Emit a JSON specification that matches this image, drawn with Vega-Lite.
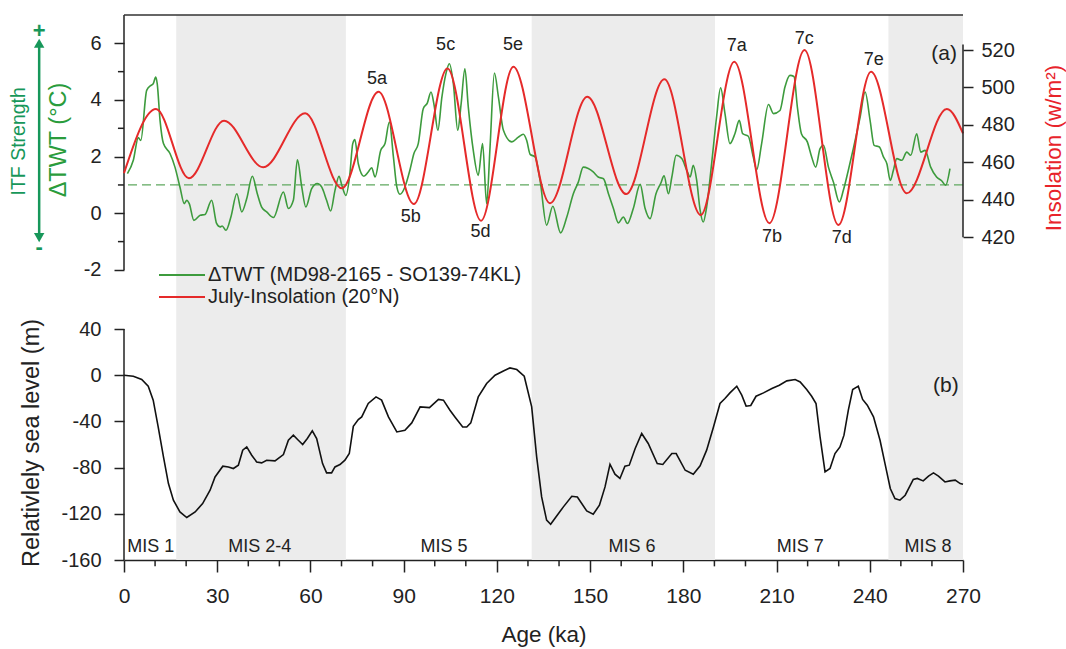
{
  "$schema": "https://vega.github.io/schema/vega-lite/v6.json",
  "width": 839,
  "height": 545,
  "autosize": "none",
  "padding": {"left": 124, "top": 15, "right": 103, "bottom": 89},
  "background": "white",
  "config": {
    "view": {"stroke": null},
    "font": "Liberation Sans"
  },
  "datasets": {
    "bands": [{"start": 16.8, "end": 71.4}, {"start": 131.2, "end": 190.2}, {"start": 246, "end": 270}],
    "twt": [
      {"age": 1.1, "v": 1.40}, {"age": 3.0, "v": 1.87}, {"age": 4.6, "v": 2.67}, {"age": 5.4, "v": 2.57}, {"age": 7.3, "v": 4.34}, {"age": 8.6, "v": 4.51}, {"age": 9.4, "v": 4.57}, {"age": 10.2, "v": 4.81}, {"age": 10.7, "v": 4.57}, {"age": 11.6, "v": 3.28}, {"age": 12.7, "v": 2.46}, {"age": 14.8, "v": 2.11}, {"age": 16.4, "v": 1.63}, {"age": 18.0, "v": 0.93}, {"age": 19.4, "v": 0.34}, {"age": 20.2, "v": 0.46}, {"age": 21.0, "v": 0.34}, {"age": 22.5, "v": -0.25}, {"age": 24.5, "v": -0.07}, {"age": 26.1, "v": -0.04}, {"age": 28.2, "v": 0.46}, {"age": 29.8, "v": -0.36}, {"age": 30.9, "v": -0.48}, {"age": 31.6, "v": -0.45}, {"age": 32.8, "v": -0.60}, {"age": 34.4, "v": -0.13}, {"age": 36.3, "v": 0.69}, {"age": 37.9, "v": 0.05}, {"age": 39.5, "v": 0.52}, {"age": 41.3, "v": 1.31}, {"age": 42.9, "v": 0.69}, {"age": 44.3, "v": 0.22}, {"age": 45.9, "v": 0.05}, {"age": 48.1, "v": -0.15}, {"age": 51.3, "v": 0.75}, {"age": 52.9, "v": 0.17}, {"age": 54.5, "v": 0.46}, {"age": 55.8, "v": 1.89}, {"age": 57.2, "v": 0.93}, {"age": 58.5, "v": 0.22}, {"age": 60.4, "v": 0.87}, {"age": 62.2, "v": 1.05}, {"age": 63.6, "v": 0.93}, {"age": 65.2, "v": 0.46}, {"age": 66.5, "v": 0.08}, {"age": 67.9, "v": 0.81}, {"age": 69.2, "v": 1.31}, {"age": 70.1, "v": 0.99}, {"age": 71.4, "v": 0.63}, {"age": 72.7, "v": 1.40}, {"age": 73.6, "v": 2.45}, {"age": 74.3, "v": 2.60}, {"age": 75.4, "v": 1.75}, {"age": 77.2, "v": 1.31}, {"age": 78.6, "v": 1.46}, {"age": 79.7, "v": 1.61}, {"age": 80.8, "v": 1.28}, {"age": 82.6, "v": 2.22}, {"age": 84.0, "v": 2.46}, {"age": 85.4, "v": 3.22}, {"age": 86.7, "v": 1.99}, {"age": 87.8, "v": 0.93}, {"age": 88.8, "v": 0.67}, {"age": 90.4, "v": 0.93}, {"age": 92.0, "v": 1.52}, {"age": 93.3, "v": 2.11}, {"age": 94.7, "v": 2.46}, {"age": 96.3, "v": 3.69}, {"age": 97.6, "v": 3.89}, {"age": 98.8, "v": 4.28}, {"age": 99.8, "v": 3.81}, {"age": 101.0, "v": 2.93}, {"age": 102.3, "v": 4.10}, {"age": 103.6, "v": 4.93}, {"age": 104.7, "v": 5.28}, {"age": 106.0, "v": 4.57}, {"age": 107.4, "v": 2.93}, {"age": 108.5, "v": 3.87}, {"age": 109.7, "v": 5.10}, {"age": 110.8, "v": 3.75}, {"age": 112.4, "v": 2.22}, {"age": 114.0, "v": 1.34}, {"age": 115.4, "v": 2.46}, {"age": 116.7, "v": 0.34}, {"age": 117.8, "v": 2.34}, {"age": 119.2, "v": 4.95}, {"age": 120.5, "v": 4.10}, {"age": 122.1, "v": 2.93}, {"age": 124.8, "v": 2.52}, {"age": 126.9, "v": 2.69}, {"age": 128.5, "v": 2.79}, {"age": 129.6, "v": 2.57}, {"age": 130.7, "v": 2.08}, {"age": 132.3, "v": 1.99}, {"age": 133.9, "v": 1.16}, {"age": 136.0, "v": -0.42}, {"age": 138.0, "v": 0.25}, {"age": 140.5, "v": -0.69}, {"age": 142.5, "v": -0.13}, {"age": 144.6, "v": 0.69}, {"age": 146.2, "v": 1.10}, {"age": 147.8, "v": 1.63}, {"age": 149.4, "v": 1.58}, {"age": 151.0, "v": 1.46}, {"age": 152.6, "v": 1.28}, {"age": 154.3, "v": 1.22}, {"age": 155.9, "v": 0.69}, {"age": 157.5, "v": 0.17}, {"age": 159.1, "v": -0.34}, {"age": 160.7, "v": -0.13}, {"age": 162.0, "v": -0.36}, {"age": 163.9, "v": 0.17}, {"age": 166.1, "v": 1.02}, {"age": 167.7, "v": 0.17}, {"age": 169.3, "v": -0.19}, {"age": 171.2, "v": 0.69}, {"age": 172.7, "v": 1.05}, {"age": 173.8, "v": 1.32}, {"age": 175.2, "v": 0.69}, {"age": 176.3, "v": 1.28}, {"age": 177.7, "v": 2.05}, {"age": 179.5, "v": 1.93}, {"age": 181.1, "v": 1.52}, {"age": 182.2, "v": 1.28}, {"age": 183.2, "v": 1.69}, {"age": 184.3, "v": 1.16}, {"age": 185.4, "v": 0.11}, {"age": 186.4, "v": -0.31}, {"age": 187.5, "v": 0.22}, {"age": 189.1, "v": 1.75}, {"age": 190.7, "v": 3.40}, {"age": 192.0, "v": 4.43}, {"age": 193.4, "v": 3.52}, {"age": 195.0, "v": 2.46}, {"age": 196.6, "v": 2.81}, {"age": 198.0, "v": 3.28}, {"age": 199.1, "v": 2.81}, {"age": 200.9, "v": 2.72}, {"age": 202.5, "v": 1.99}, {"age": 203.6, "v": 1.54}, {"age": 205.2, "v": 2.46}, {"age": 207.4, "v": 3.84}, {"age": 209.0, "v": 3.52}, {"age": 211.1, "v": 3.63}, {"age": 212.7, "v": 4.46}, {"age": 214.3, "v": 4.87}, {"age": 215.6, "v": 4.83}, {"age": 216.7, "v": 3.75}, {"age": 218.0, "v": 2.81}, {"age": 219.9, "v": 2.52}, {"age": 221.3, "v": 1.99}, {"age": 222.6, "v": 1.63}, {"age": 224.0, "v": 2.28}, {"age": 225.1, "v": 2.40}, {"age": 226.7, "v": 1.63}, {"age": 228.3, "v": 1.10}, {"age": 230.2, "v": 0.40}, {"age": 231.5, "v": 0.81}, {"age": 233.1, "v": 1.52}, {"age": 234.7, "v": 2.28}, {"age": 236.9, "v": 3.40}, {"age": 238.5, "v": 4.28}, {"age": 240.1, "v": 3.28}, {"age": 241.4, "v": 2.40}, {"age": 243.1, "v": 2.34}, {"age": 244.4, "v": 1.99}, {"age": 245.5, "v": 1.75}, {"age": 246.6, "v": 1.16}, {"age": 247.6, "v": 1.52}, {"age": 248.7, "v": 1.93}, {"age": 250.3, "v": 1.87}, {"age": 251.9, "v": 2.16}, {"age": 253.2, "v": 2.05}, {"age": 255.1, "v": 2.81}, {"age": 256.4, "v": 2.16}, {"age": 257.8, "v": 2.22}, {"age": 259.6, "v": 1.63}, {"age": 261.5, "v": 1.28}, {"age": 263.2, "v": 1.14}, {"age": 264.4, "v": 0.99}, {"age": 265.8, "v": 1.58}
    ],
    "ins": [
      {"age": 0, "v": 454.3}, {"age": 10.3, "v": 488.5}, {"age": 20.9, "v": 451.5}, {"age": 32.2, "v": 482.3}, {"age": 44.8, "v": 457.4}, {"age": 58.3, "v": 486.2}, {"age": 70.1, "v": 446.2}, {"age": 81.9, "v": 497.7}, {"age": 93.3, "v": 437.8}, {"age": 104.1, "v": 510.2}, {"age": 114.9, "v": 428.9}, {"age": 125.3, "v": 511.1}, {"age": 137.1, "v": 438.2}, {"age": 149.1, "v": 495.1}, {"age": 161.6, "v": 443.1}, {"age": 173.9, "v": 504.4}, {"age": 185.6, "v": 431.9}, {"age": 196.4, "v": 513.8}, {"age": 207.7, "v": 427.5}, {"age": 219.0, "v": 520.0}, {"age": 229.9, "v": 426.6}, {"age": 240.4, "v": 508.4}, {"age": 251.9, "v": 443.5}, {"age": 264.8, "v": 488.5}, {"age": 270, "v": 475.5}
    ],
    "sl": [
      {"age": 0, "v": 0}, {"age": 3.0, "v": -0.9}, {"age": 5.7, "v": -3.7}, {"age": 7.8, "v": -9.5}, {"age": 9.4, "v": -21.6}, {"age": 11.0, "v": -44.8}, {"age": 12.7, "v": -70.7}, {"age": 14.3, "v": -93.8}, {"age": 15.9, "v": -108.2}, {"age": 18.0, "v": -118.4}, {"age": 20.2, "v": -123.2}, {"age": 22.9, "v": -118.4}, {"age": 25.3, "v": -111.1}, {"age": 27.7, "v": -99.6}, {"age": 29.3, "v": -88.1}, {"age": 31.8, "v": -78.8}, {"age": 33.6, "v": -79.4}, {"age": 35.2, "v": -80.8}, {"age": 36.8, "v": -77.9}, {"age": 38.2, "v": -64.9}, {"age": 39.5, "v": -62.1}, {"age": 41.1, "v": -69.3}, {"age": 42.7, "v": -75.1}, {"age": 44.3, "v": -75.9}, {"age": 45.9, "v": -73.6}, {"age": 48.6, "v": -74.2}, {"age": 51.3, "v": -68.7}, {"age": 52.9, "v": -56.3}, {"age": 54.5, "v": -51.9}, {"age": 56.1, "v": -56.3}, {"age": 57.5, "v": -60.0}, {"age": 59.0, "v": -54.8}, {"age": 60.6, "v": -48.2}, {"age": 62.0, "v": -54.8}, {"age": 63.9, "v": -76.5}, {"age": 65.2, "v": -84.6}, {"age": 66.8, "v": -84.6}, {"age": 67.9, "v": -79.4}, {"age": 69.5, "v": -77.3}, {"age": 71.1, "v": -73.6}, {"age": 72.5, "v": -67.8}, {"age": 73.8, "v": -44.2}, {"age": 75.4, "v": -38.4}, {"age": 76.5, "v": -36.1}, {"age": 78.6, "v": -24.5}, {"age": 81.1, "v": -18.8}, {"age": 82.9, "v": -21.6}, {"age": 85.1, "v": -36.1}, {"age": 87.8, "v": -49.1}, {"age": 90.4, "v": -47.6}, {"age": 92.6, "v": -41.3}, {"age": 95.3, "v": -27.4}, {"age": 98.3, "v": -28.0}, {"age": 101.2, "v": -21.0}, {"age": 102.8, "v": -21.6}, {"age": 104.9, "v": -30.3}, {"age": 106.5, "v": -36.1}, {"age": 109.0, "v": -44.8}, {"age": 110.3, "v": -44.8}, {"age": 111.6, "v": -41.3}, {"age": 114.0, "v": -18.8}, {"age": 116.7, "v": -7.2}, {"age": 119.4, "v": 0}, {"age": 122.1, "v": 3.7}, {"age": 124.2, "v": 6.3}, {"age": 126.4, "v": 4.9}, {"age": 128.8, "v": -0.9}, {"age": 131.2, "v": -27.4}, {"age": 132.8, "v": -70.7}, {"age": 134.4, "v": -105.4}, {"age": 136.0, "v": -125.5}, {"age": 137.3, "v": -129.0}, {"age": 139.0, "v": -122.7}, {"age": 141.4, "v": -114.0}, {"age": 144.1, "v": -104.8}, {"age": 145.9, "v": -105.4}, {"age": 148.9, "v": -117.5}, {"age": 151.0, "v": -120.3}, {"age": 153.0, "v": -112.6}, {"age": 154.8, "v": -96.7}, {"age": 156.4, "v": -77.1}, {"age": 158.0, "v": -85.7}, {"age": 159.6, "v": -89.4}, {"age": 161.2, "v": -78.8}, {"age": 162.6, "v": -77.9}, {"age": 164.5, "v": -63.5}, {"age": 166.6, "v": -50.5}, {"age": 168.7, "v": -59.1}, {"age": 171.6, "v": -76.5}, {"age": 173.4, "v": -77.3}, {"age": 176.3, "v": -67.8}, {"age": 177.7, "v": -67.8}, {"age": 180.6, "v": -82.3}, {"age": 183.2, "v": -85.7}, {"age": 185.4, "v": -78.5}, {"age": 187.5, "v": -64.9}, {"age": 189.7, "v": -44.8}, {"age": 191.8, "v": -24.5}, {"age": 193.4, "v": -20.2}, {"age": 195.0, "v": -15.3}, {"age": 197.2, "v": -9.5}, {"age": 198.8, "v": -17.3}, {"age": 200.2, "v": -26.8}, {"age": 201.7, "v": -26.2}, {"age": 203.4, "v": -18.2}, {"age": 205.8, "v": -15.3}, {"age": 208.5, "v": -11.5}, {"age": 210.9, "v": -8.7}, {"age": 213.3, "v": -4.9}, {"age": 216.0, "v": -3.7}, {"age": 217.6, "v": -5.8}, {"age": 219.7, "v": -12.4}, {"age": 221.3, "v": -18.2}, {"age": 222.7, "v": -24.5}, {"age": 224.0, "v": -53.4}, {"age": 225.6, "v": -83.7}, {"age": 227.2, "v": -80.8}, {"age": 228.8, "v": -67.8}, {"age": 230.4, "v": -62.1}, {"age": 231.7, "v": -51.9}, {"age": 233.1, "v": -30.3}, {"age": 234.5, "v": -12.4}, {"age": 236.3, "v": -9.5}, {"age": 237.7, "v": -21.0}, {"age": 239.2, "v": -26.0}, {"age": 241.2, "v": -36.1}, {"age": 243.3, "v": -56.3}, {"age": 244.9, "v": -76.5}, {"age": 246.6, "v": -98.1}, {"age": 248.1, "v": -106.8}, {"age": 249.7, "v": -108.2}, {"age": 251.4, "v": -103.9}, {"age": 254.0, "v": -90.3}, {"age": 255.3, "v": -89.4}, {"age": 257.2, "v": -91.5}, {"age": 258.9, "v": -87.4}, {"age": 260.5, "v": -84.6}, {"age": 262.1, "v": -87.4}, {"age": 264.2, "v": -92.4}, {"age": 265.8, "v": -91.5}, {"age": 267.5, "v": -90.9}, {"age": 269.1, "v": -93.8}, {"age": 270, "v": -94.4}
    ],
    "peaks": [
      {"age": 81.4, "v": 4.75, "label": "5a"}, {"age": 92.3, "v": -0.13, "label": "5b"}, {"age": 103.5, "v": 5.93, "label": "5c"}, {"age": 114.7, "v": -0.66, "label": "5d"}, {"age": 125.2, "v": 5.93, "label": "5e"},
      {"age": 197.2, "v": 5.9, "label": "7a"}, {"age": 208.5, "v": -0.84, "label": "7b"}, {"age": 218.9, "v": 6.16, "label": "7c"}, {"age": 231.0, "v": -0.89, "label": "7d"}, {"age": 241.3, "v": 5.4, "label": "7e"}
    ],
    "mis": [
      {"age": 8.6, "label": "MIS 1"}, {"age": 43.7, "label": "MIS 2-4"}, {"age": 103.0, "label": "MIS 5"}, {"age": 163.5, "label": "MIS 6"}, {"age": 217.6, "label": "MIS 7"}, {"age": 258.7, "label": "MIS 8"}
    ],
    "xminor": [{"age": 10}, {"age": 20}, {"age": 40}, {"age": 50}, {"age": 70}, {"age": 80}, {"age": 100}, {"age": 110}, {"age": 130}, {"age": 140}, {"age": 160}, {"age": 170}, {"age": 190}, {"age": 200}, {"age": 220}, {"age": 230}, {"age": 250}, {"age": 260}],
    "yminor": [{"v": -1}, {"v": 1}, {"v": 3}, {"v": 5}]
  },
  "resolve": {"scale": {"y": "independent"}},
  "layer": [
    {
      "data": {"name": "bands"},
      "mark": {"type": "rect", "color": "#ececec"},
      "encoding": {
        "x": {
          "field": "start", "type": "quantitative",
          "scale": {"domain": [0, 270], "nice": false, "zero": false},
          "axis": {
            "values": [0, 30, 60, 90, 120, 150, 180, 210, 240, 270],
            "labelExpr": "'' + datum.value",
            "grid": false, "tickSize": 12, "tickWidth": 1.5, "tickColor": "#222", "domainWidth": 1.5, "domainColor": "#222",
            "labelFont": "Liberation Sans", "labelFontSize": 21, "labelColor": "#222", "labelPadding": 13, "labelFlush": false, "labelOverlap": false,
            "title": "Age (ka)", "titleFont": "Liberation Sans", "titleFontWeight": "normal", "titleColor": "#222", "titleFontSize": 22.5, "titleX": 419.5, "titleY": 74, "titleAlign": "center", "titleBaseline": "middle", "titleAngle": 0
          }
        },
        "x2": {"field": "end"}
      }
    },
    {
      "data": {"values": [{}]},
      "mark": {"type": "rule", "color": "#5fa85f", "strokeDash": [9, 5], "strokeWidth": 1.3},
      "encoding": {"y": {"datum": 1, "type": "quantitative", "scale": {"domain": [-12.24, 7], "nice": false, "zero": false}, "axis": null}}
    },
    {
      "data": {"name": "twt"},
      "mark": {"type": "line", "interpolate": "monotone", "strokeWidth": 1.6},
      "encoding": {
        "x": {"field": "age", "type": "quantitative"},
        "y": {
          "field": "v", "type": "quantitative",
          "scale": {"domain": [-12.24, 7], "nice": false, "zero": false},
          "axis": {
            "orient": "left", "domain": false, "grid": false,
            "values": [-2, 0, 2, 4, 6],
            "labelExpr": "'' + datum.value",
            "tickSize": 10, "tickWidth": 1.5, "tickColor": "#222",
            "labelFont": "Liberation Sans", "labelFontSize": 20, "labelColor": "#222", "labelPadding": 13, "labelOverlap": false, "labelFlush": false,
            "title": "ΔTWT (°C)", "titleFont": "Liberation Sans", "titleFontWeight": "normal", "titleColor": "#2a9c3c", "titleFontSize": 23.5, "titleX": -66, "titleY": 124.5, "titleAngle": 270, "titleAlign": "center", "titleBaseline": "middle"
          }
        },
        "color": {
          "datum": "ΔTWT (MD98-2165 - SO139-74KL)", "type": "nominal",
          "scale": {"domain": ["ΔTWT (MD98-2165 - SO139-74KL)", "July-Insolation (20°N)"], "range": ["#3d9b3d", "#e52a2a"]},
          "legend": {
            "orient": "none", "legendX": 48, "legendY": 250, "title": null, "padding": 0,
            "symbolType": "M-4.6,0H4.6", "symbolSize": 100, "symbolStrokeWidth": 1.8,
            "labelFontSize": 20, "labelFont": "Liberation Sans", "labelColor": "#222", "labelOffset": 16, "labelLimit": 0, "rowPadding": 2
          }
        }
      }
    },
    {
      "data": {"values": [{}]},
      "mark": {"type": "rule", "color": "#222", "strokeWidth": 1.5},
      "encoding": {
        "x": {"datum": 0, "type": "quantitative"},
        "y": {"datum": -2, "type": "quantitative", "scale": {"domain": [-12.24, 7], "nice": false, "zero": false}, "axis": null},
        "y2": {"datum": 7}
      }
    },
    {
      "data": {"name": "yminor"},
      "mark": {"type": "rule", "color": "#222", "strokeWidth": 1.5},
      "encoding": {
        "x": {"datum": 0, "type": "quantitative"},
        "x2": {"datum": -1.95},
        "y": {"field": "v", "type": "quantitative", "scale": {"domain": [-12.24, 7], "nice": false, "zero": false}, "axis": null}
      }
    },
    {
      "data": {"values": [{}]},
      "mark": {"type": "rule", "color": "#333", "strokeWidth": 1.5},
      "encoding": {
        "x": {"datum": 0, "type": "quantitative"},
        "x2": {"datum": 270},
        "y": {"datum": 7, "type": "quantitative", "scale": {"domain": [-12.24, 7], "nice": false, "zero": false}, "axis": null}
      }
    },
    {
      "data": {"name": "peaks"},
      "mark": {"type": "text", "fontSize": 18, "color": "#222", "align": "center", "baseline": "middle"},
      "encoding": {
        "x": {"field": "age", "type": "quantitative"},
        "y": {"field": "v", "type": "quantitative", "scale": {"domain": [-12.24, 7], "nice": false, "zero": false}, "axis": null},
        "text": {"field": "label"}
      }
    },
    {
      "data": {"values": [{"age": 263.9, "v": 5.63, "label": "(a)"}]},
      "mark": {"type": "text", "fontSize": 21, "color": "#222", "align": "center", "baseline": "middle"},
      "encoding": {
        "x": {"field": "age", "type": "quantitative"},
        "y": {"field": "v", "type": "quantitative", "scale": {"domain": [-12.24, 7], "nice": false, "zero": false}, "axis": null},
        "text": {"field": "label"}
      }
    },
    {
      "data": {"values": [{"age": -27.3, "lo": -0.86, "hi": 6.0}]},
      "mark": {"type": "rule", "color": "#17975a", "strokeWidth": 2.5},
      "encoding": {
        "x": {"field": "age", "type": "quantitative"},
        "y": {"field": "lo", "type": "quantitative", "scale": {"domain": [-12.24, 7], "nice": false, "zero": false}, "axis": null},
        "y2": {"field": "hi"}
      }
    },
    {
      "data": {"values": [{"age": -27.3, "v": 6.0, "shape": "triangle-up"}, {"age": -27.3, "v": -0.86, "shape": "triangle-down"}]},
      "mark": {"type": "point", "filled": true, "size": 110, "color": "#17975a", "opacity": 1},
      "encoding": {
        "x": {"field": "age", "type": "quantitative"},
        "y": {"field": "v", "type": "quantitative", "scale": {"domain": [-12.24, 7], "nice": false, "zero": false}, "axis": null},
        "shape": {"field": "shape", "type": "nominal", "scale": null}
      }
    },
    {
      "data": {"values": [{"age": -27.3, "v": 6.45, "label": "+"}, {"age": -27.3, "v": -1.2, "label": "-"}]},
      "mark": {"type": "text", "fontSize": 22, "fontWeight": "bold", "color": "#17975a", "align": "center", "baseline": "middle"},
      "encoding": {
        "x": {"field": "age", "type": "quantitative"},
        "y": {"field": "v", "type": "quantitative", "scale": {"domain": [-12.24, 7], "nice": false, "zero": false}, "axis": null},
        "text": {"field": "label"}
      }
    },
    {
      "data": {"values": [{"age": -33.7, "v": 2.54, "label": "ITF Strength"}]},
      "mark": {"type": "text", "fontSize": 19.5, "color": "#17975a", "align": "center", "baseline": "middle", "angle": 270},
      "encoding": {
        "x": {"field": "age", "type": "quantitative"},
        "y": {"field": "v", "type": "quantitative", "scale": {"domain": [-12.24, 7], "nice": false, "zero": false}, "axis": null},
        "text": {"field": "label"}
      }
    },
    {
      "data": {"name": "ins"},
      "mark": {"type": "line", "interpolate": "monotone", "strokeWidth": 2},
      "encoding": {
        "x": {"field": "age", "type": "quantitative"},
        "y": {
          "field": "v", "type": "quantitative",
          "scale": {"domain": [247.7, 538.7], "nice": false, "zero": false},
          "axis": {
            "orient": "right", "domain": false, "grid": false,
            "values": [420, 440, 460, 480, 500, 520],
            "tickSize": 10, "tickWidth": 1.5, "tickColor": "#222",
            "labelFont": "Liberation Sans", "labelFontSize": 20, "labelColor": "#222", "labelPadding": 8, "labelFlush": false,
            "title": "Insolation (w/m²)", "titleFont": "Liberation Sans", "titleFontWeight": "normal", "titleColor": "#e8232b", "titleFontSize": 22.5, "titleX": 90, "titleY": 132.5, "titleAngle": 270, "titleAlign": "center", "titleBaseline": "middle"
          }
        },
        "color": {"datum": "July-Insolation (20°N)", "type": "nominal"}
      }
    },
    {
      "data": {"values": [{}]},
      "mark": {"type": "rule", "color": "#222", "strokeWidth": 1.5},
      "encoding": {
        "x": {"datum": 270, "type": "quantitative"},
        "y": {"datum": 420, "type": "quantitative", "scale": {"domain": [247.7, 538.7], "nice": false, "zero": false}, "axis": null},
        "y2": {"datum": 523}
      }
    },
    {
      "data": {"name": "sl"},
      "mark": {"type": "line", "color": "#111", "strokeWidth": 1.6},
      "encoding": {
        "x": {"field": "age", "type": "quantitative"},
        "y": {
          "field": "v", "type": "quantitative",
          "scale": {"domain": [-160, 311.9], "nice": false, "zero": false},
          "axis": {
            "orient": "left", "domain": false, "grid": false,
            "values": [-160, -120, -80, -40, 0, 40],
            "labelExpr": "'' + datum.value",
            "tickSize": 10, "tickWidth": 1.5, "tickColor": "#222",
            "labelFont": "Liberation Sans", "labelFontSize": 20, "labelColor": "#222", "labelPadding": 13, "labelFlush": false,
            "title": "Relativlely sea level (m)", "titleFont": "Liberation Sans", "titleFontWeight": "normal", "titleColor": "#222", "titleFontSize": 23.5, "titleX": -93, "titleY": 427.5, "titleAngle": 270, "titleAlign": "center", "titleBaseline": "middle"
          }
        }
      }
    },
    {
      "data": {"values": [{}]},
      "mark": {"type": "rule", "color": "#222", "strokeWidth": 1.5},
      "encoding": {
        "x": {"datum": 0, "type": "quantitative"},
        "y": {"datum": -160, "type": "quantitative", "scale": {"domain": [-160, 311.9], "nice": false, "zero": false}, "axis": null},
        "y2": {"datum": 40}
      }
    },
    {
      "data": {"name": "xminor"},
      "mark": {"type": "rule", "color": "#222", "strokeWidth": 1.5},
      "encoding": {
        "x": {"field": "age", "type": "quantitative"},
        "y": {"datum": -160, "type": "quantitative", "scale": {"domain": [-160, 311.9], "nice": false, "zero": false}, "axis": null},
        "y2": {"datum": -165.5}
      }
    },
    {
      "data": {"name": "mis"},
      "mark": {"type": "text", "fontSize": 18, "color": "#222", "align": "center", "baseline": "middle"},
      "encoding": {
        "x": {"field": "age", "type": "quantitative"},
        "y": {"datum": -148.6, "type": "quantitative", "scale": {"domain": [-160, 311.9], "nice": false, "zero": false}, "axis": null},
        "text": {"field": "label"}
      }
    },
    {
      "data": {"values": [{"age": 264.5, "v": -9.4, "label": "(b)"}]},
      "mark": {"type": "text", "fontSize": 21, "color": "#222", "align": "center", "baseline": "middle"},
      "encoding": {
        "x": {"field": "age", "type": "quantitative"},
        "y": {"field": "v", "type": "quantitative", "scale": {"domain": [-160, 311.9], "nice": false, "zero": false}, "axis": null},
        "text": {"field": "label"}
      }
    }
  ]
}
